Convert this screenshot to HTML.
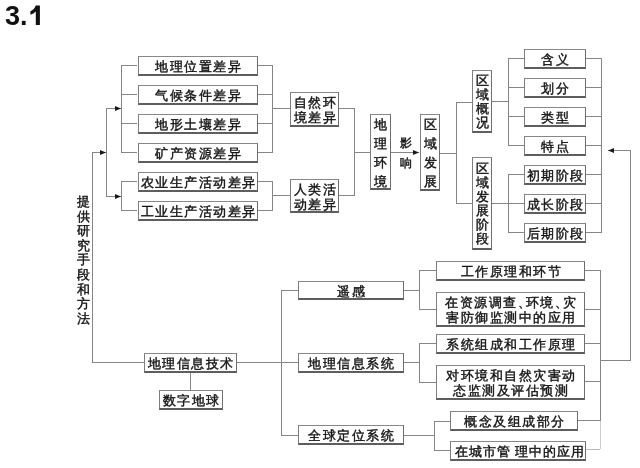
<!DOCTYPE html>
<html><head><meta charset="utf-8"><style>
html,body{margin:0;padding:0;background:#fff}
body{will-change:transform;width:640px;height:468px;position:relative;overflow:hidden;font-family:"Liberation Serif",serif;color:#141414}
i{position:absolute;display:block}
.b{position:absolute;box-sizing:border-box;border:1px solid #7e7e7e;border-top-color:#888;border-right-color:#6e6e6e;border-bottom:2px solid #5e5e5e;display:flex;align-items:center;justify-content:center;text-align:center;background:#fff;white-space:nowrap;-webkit-text-stroke:0.4px #111}
.cm{letter-spacing:-5px}
.vt{position:absolute;text-align:center;-webkit-text-stroke:0.4px #111}
.t{position:absolute;left:5px;top:1px;font-family:"Liberation Sans",sans-serif;font-weight:bold;font-size:27px;color:#111}
</style></head><body>
<div class="t">3.</div><svg style="position:absolute;left:0;top:0" width="45" height="30"><path d="M35.8 5.6 L39.9 5.6 L39.9 25 L35.8 25 L35.8 11.6 Q33.6 13.8 30.4 14.8 L30.4 11.2 Q34.4 9.6 35.8 5.6 Z" fill="#111"/></svg>
<div class="b" style="left:138px;top:56px;width:120px;height:20px;font-size:13px;letter-spacing:1.5px;line-height:15px;"><span style="position:relative;top:1px;left:0px;margin-right:-1.5px">地理位置差异</span></div>
<div class="b" style="left:138px;top:85px;width:120px;height:20px;font-size:13px;letter-spacing:1.5px;line-height:15px;"><span style="position:relative;top:1px;left:0px;margin-right:-1.5px">气候条件差异</span></div>
<div class="b" style="left:138px;top:114px;width:120px;height:20px;font-size:13px;letter-spacing:1.5px;line-height:15px;"><span style="position:relative;top:1px;left:0px;margin-right:-1.5px">地形土壤差异</span></div>
<div class="b" style="left:138px;top:143px;width:120px;height:20px;font-size:13px;letter-spacing:1.5px;line-height:15px;"><span style="position:relative;top:1px;left:0px;margin-right:-1.5px">矿产资源差异</span></div>
<div class="b" style="left:138px;top:172px;width:120px;height:20px;font-size:13px;letter-spacing:1.5px;line-height:15px;"><span style="position:relative;top:1px;left:0px;margin-right:-1.5px">农业生产活动差异</span></div>
<div class="b" style="left:138px;top:201px;width:120px;height:20px;font-size:13px;letter-spacing:1.5px;line-height:15px;"><span style="position:relative;top:1px;left:0px;margin-right:-1.5px">工业生产活动差异</span></div>
<i style="left:121px;top:65px;width:16px;height:1px;background:#868686"></i>
<i style="left:121px;top:94px;width:16px;height:1px;background:#868686"></i>
<i style="left:121px;top:123px;width:16px;height:1px;background:#868686"></i>
<i style="left:121px;top:152px;width:16px;height:1px;background:#868686"></i>
<i style="left:121px;top:65px;width:1px;height:88px;background:#868686"></i>
<i style="left:106px;top:108px;width:15px;height:1px;background:#868686"></i>
<svg style="position:absolute;left:115px;top:106px" width="6" height="5"><path d="M0 0 L6 2.5 L0 5 Z" fill="#1a1a1a"/></svg>
<i style="left:106px;top:108px;width:1px;height:89px;background:#868686"></i>
<i style="left:106px;top:196px;width:15px;height:1px;background:#868686"></i>
<svg style="position:absolute;left:115px;top:194px" width="6" height="5"><path d="M0 0 L6 2.5 L0 5 Z" fill="#1a1a1a"/></svg>
<i style="left:121px;top:181px;width:1px;height:30px;background:#868686"></i>
<i style="left:121px;top:181px;width:16px;height:1px;background:#868686"></i>
<i style="left:121px;top:210px;width:16px;height:1px;background:#868686"></i>
<i style="left:92px;top:152px;width:1px;height:211px;background:#868686"></i>
<i style="left:92px;top:152px;width:14px;height:1px;background:#868686"></i>
<svg style="position:absolute;left:100px;top:150px" width="6" height="5"><path d="M0 0 L6 2.5 L0 5 Z" fill="#1a1a1a"/></svg>
<i style="left:92px;top:362px;width:52px;height:1px;background:#868686"></i>
<i style="left:258px;top:65px;width:15px;height:1px;background:#868686"></i>
<i style="left:258px;top:94px;width:15px;height:1px;background:#868686"></i>
<i style="left:258px;top:123px;width:15px;height:1px;background:#868686"></i>
<i style="left:258px;top:152px;width:15px;height:1px;background:#868686"></i>
<i style="left:272px;top:65px;width:1px;height:88px;background:#868686"></i>
<i style="left:272px;top:108px;width:18px;height:1px;background:#868686"></i>
<i style="left:258px;top:181px;width:15px;height:1px;background:#868686"></i>
<i style="left:258px;top:210px;width:15px;height:1px;background:#868686"></i>
<i style="left:272px;top:181px;width:1px;height:30px;background:#868686"></i>
<i style="left:272px;top:195px;width:18px;height:1px;background:#868686"></i>
<div class="vt" style="left:77px;top:195px;font-size:13px;line-height:14.6px">提<br>供<br>研<br>究<br>手<br>段<br>和<br>方<br>法</div>
<div class="b" style="left:290px;top:92px;width:49px;height:35px;font-size:13px;letter-spacing:1.5px;line-height:15px;"><span style="position:relative;top:1px;left:0px;margin-right:-1.5px">自然环<br>境差异</span></div>
<div class="b" style="left:290px;top:179px;width:49px;height:34px;font-size:13px;letter-spacing:1.5px;line-height:15px;"><span style="position:relative;top:1px;left:0px;margin-right:-1.5px">人类活<br>动差异</span></div>
<i style="left:339px;top:108px;width:16px;height:1px;background:#868686"></i>
<i style="left:339px;top:195px;width:16px;height:1px;background:#868686"></i>
<i style="left:354px;top:108px;width:1px;height:88px;background:#868686"></i>
<i style="left:354px;top:152px;width:17px;height:1px;background:#868686"></i>
<div class="b" style="left:370px;top:114px;width:21px;height:76px;font-size:13px;line-height:19px;"><span style="position:relative;top:1px">地<br>理<br>环<br>境</span></div>
<i style="left:391px;top:152px;width:28px;height:1px;background:#868686"></i>
<svg style="position:absolute;left:413px;top:150px" width="6" height="5"><path d="M0 0 L6 2.5 L0 5 Z" fill="#1a1a1a"/></svg>
<div class="vt" style="left:400px;top:133px;font-size:12px;line-height:20px">影<br>响</div>
<div class="b" style="left:420px;top:114px;width:20px;height:77px;font-size:13px;line-height:19px;"><span style="position:relative;top:1px">区<br>域<br>发<br>展</span></div>
<i style="left:440px;top:153px;width:16px;height:1px;background:#868686"></i>
<i style="left:456px;top:102px;width:1px;height:102px;background:#868686"></i>
<i style="left:456px;top:102px;width:16px;height:1px;background:#868686"></i>
<i style="left:456px;top:203px;width:16px;height:1px;background:#868686"></i>
<div class="b" style="left:472px;top:70px;width:20px;height:63px;font-size:13px;line-height:14.2px;"><span style="position:relative;top:1px">区<br>域<br>概<br>况</span></div>
<div class="b" style="left:472px;top:157px;width:20px;height:93px;font-size:13px;line-height:14px;"><span style="position:relative;top:1px">区<br>域<br>发<br>展<br>阶<br>段</span></div>
<i style="left:492px;top:101px;width:16px;height:1px;background:#868686"></i>
<i style="left:508px;top:58px;width:1px;height:88px;background:#868686"></i>
<i style="left:508px;top:58px;width:16px;height:1px;background:#868686"></i>
<i style="left:508px;top:87px;width:16px;height:1px;background:#868686"></i>
<i style="left:508px;top:116px;width:16px;height:1px;background:#868686"></i>
<i style="left:508px;top:145px;width:16px;height:1px;background:#868686"></i>
<i style="left:492px;top:203px;width:16px;height:1px;background:#868686"></i>
<i style="left:508px;top:174px;width:1px;height:59px;background:#868686"></i>
<i style="left:508px;top:174px;width:16px;height:1px;background:#868686"></i>
<i style="left:508px;top:203px;width:16px;height:1px;background:#868686"></i>
<i style="left:508px;top:232px;width:16px;height:1px;background:#868686"></i>
<div class="b" style="left:524px;top:49px;width:62px;height:20px;font-size:13px;letter-spacing:1.5px;line-height:15px;"><span style="position:relative;top:1px;left:0px;margin-right:-1.5px">含义</span></div>
<div class="b" style="left:524px;top:78px;width:62px;height:20px;font-size:13px;letter-spacing:1.5px;line-height:15px;"><span style="position:relative;top:1px;left:0px;margin-right:-1.5px">划分</span></div>
<div class="b" style="left:524px;top:107px;width:62px;height:20px;font-size:13px;letter-spacing:1.5px;line-height:15px;"><span style="position:relative;top:1px;left:0px;margin-right:-1.5px">类型</span></div>
<div class="b" style="left:524px;top:136px;width:62px;height:20px;font-size:13px;letter-spacing:1.5px;line-height:15px;"><span style="position:relative;top:1px;left:0px;margin-right:-1.5px">特点</span></div>
<div class="b" style="left:524px;top:165px;width:62px;height:20px;font-size:13px;letter-spacing:1.5px;line-height:15px;"><span style="position:relative;top:1px;left:0px;margin-right:-1.5px">初期阶段</span></div>
<div class="b" style="left:524px;top:194px;width:62px;height:20px;font-size:13px;letter-spacing:1.5px;line-height:15px;"><span style="position:relative;top:1px;left:0px;margin-right:-1.5px">成长阶段</span></div>
<div class="b" style="left:524px;top:223px;width:62px;height:20px;font-size:13px;letter-spacing:1.5px;line-height:15px;"><span style="position:relative;top:1px;left:0px;margin-right:-1.5px">后期阶段</span></div>
<i style="left:586px;top:58px;width:15px;height:1px;background:#868686"></i>
<i style="left:586px;top:87px;width:15px;height:1px;background:#868686"></i>
<i style="left:586px;top:116px;width:15px;height:1px;background:#868686"></i>
<i style="left:586px;top:145px;width:15px;height:1px;background:#868686"></i>
<i style="left:586px;top:174px;width:15px;height:1px;background:#868686"></i>
<i style="left:586px;top:203px;width:15px;height:1px;background:#868686"></i>
<i style="left:586px;top:232px;width:15px;height:1px;background:#868686"></i>
<i style="left:601px;top:58px;width:1px;height:175px;background:#868686"></i>
<i style="left:630px;top:150px;width:1px;height:211px;background:#868686"></i>
<i style="left:608px;top:150px;width:22px;height:1px;background:#868686"></i>
<svg style="position:absolute;left:608px;top:148px" width="6" height="5"><path d="M6 0 L0 2.5 L6 5 Z" fill="#1a1a1a"/></svg>
<i style="left:600px;top:360px;width:30px;height:1px;background:#868686"></i>
<div class="b" style="left:144px;top:353px;width:93px;height:20px;font-size:13px;letter-spacing:1.5px;line-height:15px;"><span style="position:relative;top:1px;left:0px;margin-right:-1.5px">地理信息技术</span></div>
<i style="left:190px;top:373px;width:1px;height:17px;background:#868686"></i>
<div class="b" style="left:159px;top:390px;width:64px;height:20px;font-size:13px;letter-spacing:1.5px;line-height:15px;"><span style="position:relative;top:1px;left:0px;margin-right:-1.5px">数字地球</span></div>
<i style="left:237px;top:362px;width:61px;height:1px;background:#868686"></i>
<i style="left:281px;top:290px;width:1px;height:146px;background:#868686"></i>
<i style="left:281px;top:290px;width:17px;height:1px;background:#868686"></i>
<i style="left:281px;top:435px;width:17px;height:1px;background:#868686"></i>
<div class="b" style="left:298px;top:281px;width:106px;height:19px;font-size:13px;letter-spacing:1.5px;line-height:15px;"><span style="position:relative;top:1px;left:0px;margin-right:-1.5px">遥感</span></div>
<div class="b" style="left:298px;top:353px;width:106px;height:20px;font-size:13px;letter-spacing:1.5px;line-height:15px;"><span style="position:relative;top:1px;left:0px;margin-right:-1.5px">地理信息系统</span></div>
<div class="b" style="left:298px;top:425px;width:106px;height:20px;font-size:13px;letter-spacing:1.5px;line-height:15px;"><span style="position:relative;top:1px;left:0px;margin-right:-1.5px">全球定位系统</span></div>
<i style="left:404px;top:290px;width:16px;height:1px;background:#868686"></i>
<i style="left:419px;top:270px;width:1px;height:40px;background:#868686"></i>
<i style="left:419px;top:270px;width:17px;height:1px;background:#868686"></i>
<i style="left:419px;top:309px;width:17px;height:1px;background:#868686"></i>
<div class="b" style="left:436px;top:261px;width:149px;height:20px;font-size:13px;letter-spacing:1.5px;line-height:15px;"><span style="position:relative;top:1px;left:0px;margin-right:-1.5px">工作原理和环节</span></div>
<div class="b" style="left:436px;top:292px;width:149px;height:35px;font-size:13px;letter-spacing:1.5px;line-height:15px;"><span style="position:relative;top:1px;left:0px;margin-right:-1.5px">在资源调查<span class="cm">、</span>环境<span class="cm">、</span>灾<br>害防御监测中的应用</span></div>
<i style="left:404px;top:362px;width:15px;height:1px;background:#868686"></i>
<i style="left:419px;top:343px;width:1px;height:40px;background:#868686"></i>
<i style="left:419px;top:343px;width:17px;height:1px;background:#868686"></i>
<i style="left:419px;top:382px;width:17px;height:1px;background:#868686"></i>
<div class="b" style="left:436px;top:334px;width:149px;height:20px;font-size:13px;letter-spacing:1.5px;line-height:15px;"><span style="position:relative;top:1px;left:0px;margin-right:-1.5px">系统组成和工作原理</span></div>
<div class="b" style="left:436px;top:365px;width:149px;height:35px;font-size:13px;letter-spacing:1.5px;line-height:15px;"><span style="position:relative;top:1px;left:0px;margin-right:-1.5px">对环境和自然灾害动<br>态监测及评估预测</span></div>
<i style="left:404px;top:435px;width:30px;height:1px;background:#868686"></i>
<i style="left:434px;top:421px;width:1px;height:30px;background:#868686"></i>
<i style="left:434px;top:421px;width:16px;height:1px;background:#868686"></i>
<i style="left:434px;top:450px;width:16px;height:1px;background:#868686"></i>
<div class="b" style="left:450px;top:411px;width:128px;height:20px;font-size:13px;letter-spacing:1.5px;line-height:15px;"><span style="position:relative;top:1px;left:0px;margin-right:-1.5px">概念及组成部分</span></div>
<div class="b" style="left:450px;top:441px;width:136px;height:20px;font-size:13px;letter-spacing:1px;line-height:15px;"><span style="position:relative;top:1px;left:1px;margin-right:-1px">在城市管<span style="margin-left:4px"></span>理中的应用</span></div>
<i style="left:585px;top:270px;width:15px;height:1px;background:#868686"></i>
<i style="left:585px;top:309px;width:15px;height:1px;background:#868686"></i>
<i style="left:585px;top:343px;width:15px;height:1px;background:#868686"></i>
<i style="left:585px;top:381px;width:15px;height:1px;background:#868686"></i>
<i style="left:578px;top:420px;width:22px;height:1px;background:#868686"></i>
<i style="left:586px;top:449px;width:14px;height:1px;background:#bbb"></i>
<i style="left:600px;top:270px;width:1px;height:151px;background:#868686"></i>
<i style="left:600px;top:421px;width:1px;height:28px;background:#ccc"></i>
</body></html>
